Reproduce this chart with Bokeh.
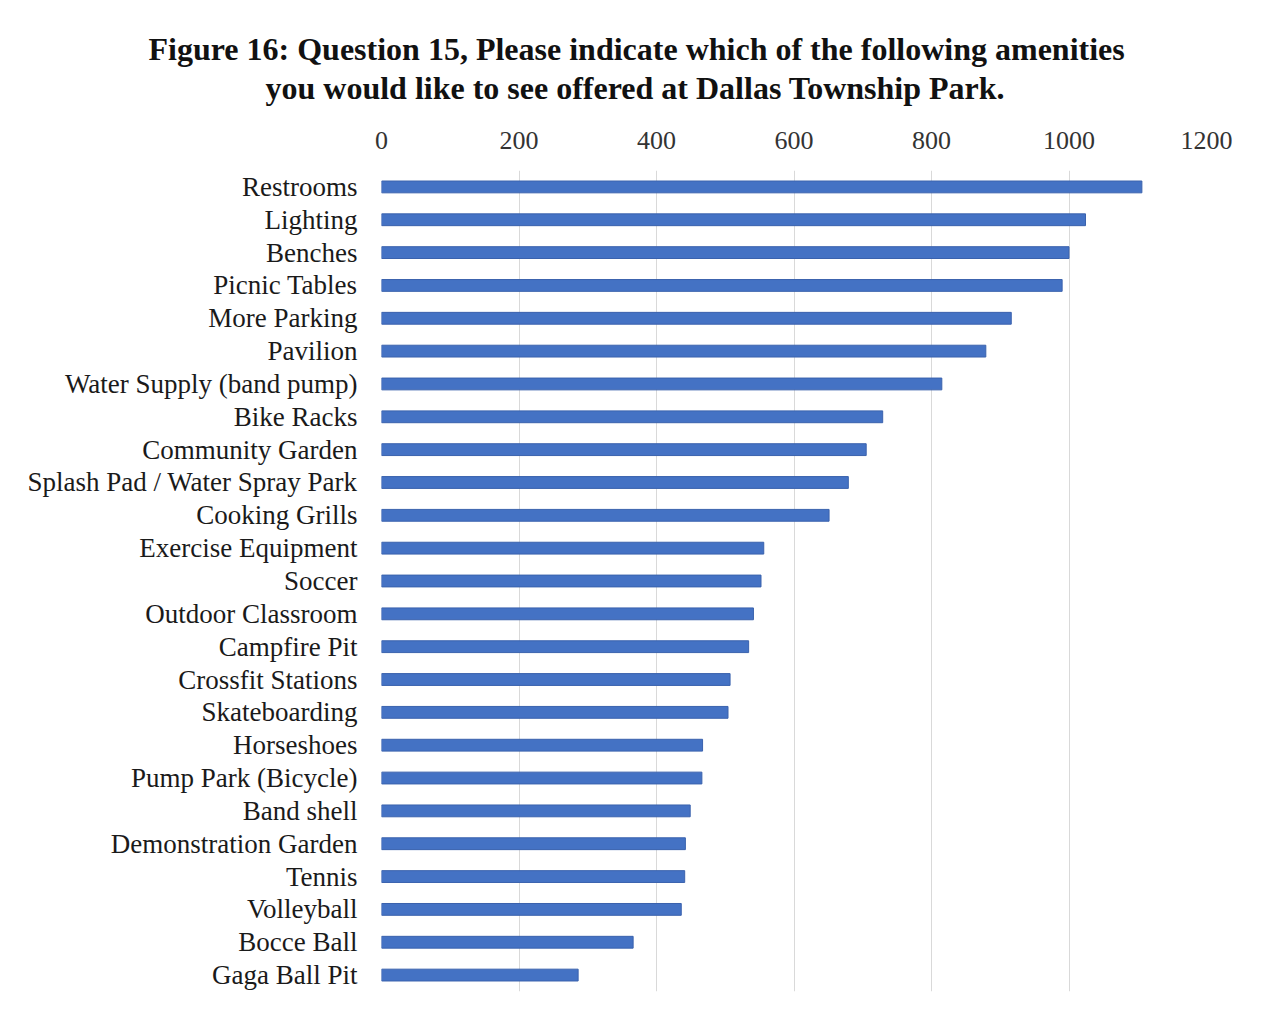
from bokeh.plotting import figure
from bokeh.models import FactorRange, Range1d, FixedTicker, Title
from bokeh.embed import file_html
from bokeh.resources import INLINE

categories = [
    "Restrooms", "Lighting", "Benches", "Picnic Tables", "More Parking", "Pavilion",
    "Water Supply (band pump)", "Bike Racks", "Community Garden",
    "Splash Pad / Water Spray Park", "Cooking Grills", "Exercise Equipment", "Soccer",
    "Outdoor Classroom", "Campfire Pit", "Crossfit Stations", "Skateboarding",
    "Horseshoes", "Pump Park (Bicycle)", "Band shell", "Demonstration Garden",
    "Tennis", "Volleyball", "Bocce Ball", "Gaga Ball Pit",
]
counts = [
    1106, 1024, 1000, 990, 916, 879, 815, 729, 705, 679, 651, 556, 552, 541, 534,
    507, 504, 467, 466, 449, 442, 441, 436, 366, 286,
]
x_ticks = [0, 200, 400, 600, 800, 1000, 1200]
title_lines = [
    "Figure 16: Question 15, Please indicate which of the following amenities",
    "you would like to see offered at Dallas Township Park.",
]

SERIF = "Liberation Serif"

p = figure(
    width=1262, height=1015,
    y_range=FactorRange(factors=list(reversed(categories)), range_padding=0),
    x_range=Range1d(0, 1200),
    x_axis_location="above",
    output_backend="svg", toolbar_location=None, title=None,
    min_border_left=381, min_border_right=56, min_border_top=170, min_border_bottom=24,
)
p.outline_line_color = None
p.background_fill_color = "white"
p.border_fill_color = "white"

p.hbar(y=categories, right=counts, left=0, height=0.36,
       fill_color="#4472C4", line_color="#3a62ad", line_width=1)

p.xaxis.ticker = FixedTicker(ticks=x_ticks)
p.xaxis.axis_line_color = None
p.xaxis.major_tick_line_color = None
p.xaxis.minor_tick_line_color = None
p.xaxis.major_label_text_font = SERIF
p.xaxis.major_label_text_font_size = "26px"
p.xaxis.major_label_text_color = "#333333"
p.xaxis.major_label_standoff = 16

p.yaxis.axis_line_color = None
p.yaxis.major_tick_line_color = None
p.yaxis.major_label_text_font = SERIF
p.yaxis.major_label_text_font_size = "27px"
p.yaxis.major_label_text_color = "#1a1a1a"
p.yaxis.major_label_standoff = 18

p.xgrid.grid_line_color = "#d9d9d9"
p.xgrid.grid_line_width = 1
p.ygrid.grid_line_color = None

# title lines stacked above the axis (second line nearest the plot)
for line, off, so in zip(reversed(title_lines), [-116, -233], [46, -44]):
    p.add_layout(Title(text=line, align="left", offset=off, standoff=so,
                       text_font=SERIF, text_font_style="bold",
                       text_font_size="32px", text_color="#111111"), "above")

open("out.html", "w").write(file_html(p, INLINE))
